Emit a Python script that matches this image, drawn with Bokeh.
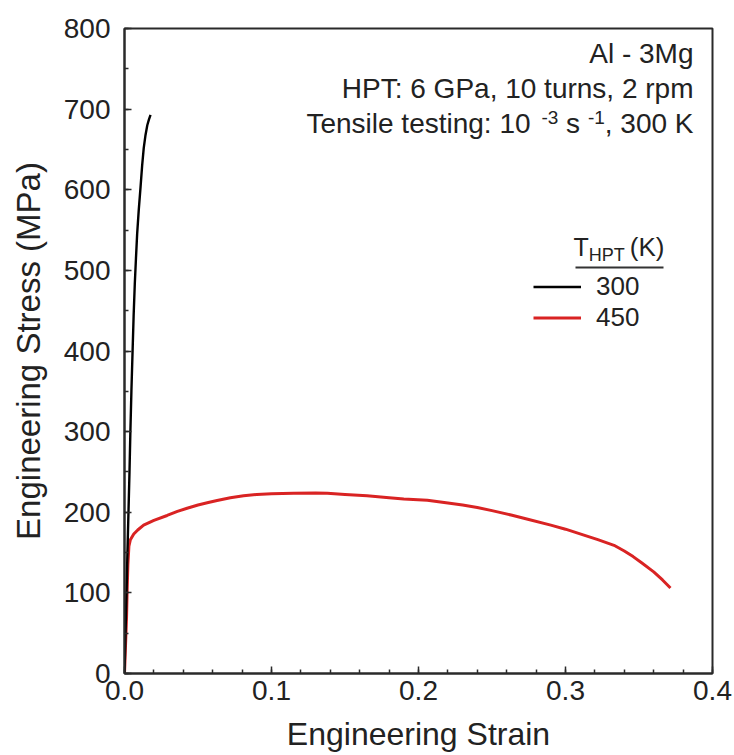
from bokeh.plotting import figure
from bokeh.models import (Range1d, SingleIntervalTicker, Legend, LegendItem, Label,
                          PrintfTickFormatter, ColumnDataSource)
from bokeh.embed import file_html
from bokeh.resources import INLINE

# ---------------- data ----------------
strain_300 = [0.0, 0.0007, 0.0014, 0.0020, 0.0027, 0.0034, 0.0040, 0.0047, 0.0055,
              0.0062, 0.0070, 0.0078, 0.0086, 0.0097, 0.0109, 0.0120, 0.0131, 0.0143,
              0.0155, 0.0166, 0.0177]
stress_300 = [0, 50, 100, 150, 200, 250, 300, 350, 400, 443, 483, 515, 545, 575, 603,
              630, 652, 668, 680, 687, 693]

strain_450 = [0.0, 0.0007, 0.0014, 0.0018, 0.0023, 0.003, 0.004, 0.0063, 0.009, 0.013,
              0.020, 0.029, 0.036, 0.0426, 0.050, 0.057, 0.063, 0.072, 0.081, 0.090,
              0.100, 0.115, 0.130, 0.138, 0.150, 0.165, 0.180, 0.190, 0.206, 0.220,
              0.230, 0.240, 0.250, 0.263, 0.275, 0.290, 0.300, 0.312, 0.322, 0.333,
              0.340, 0.346, 0.352, 0.360, 0.366, 0.3714]
stress_450 = [0, 35, 70, 103, 135, 158, 166, 173, 178, 184, 190, 196, 201, 205, 209,
              212, 214.5, 218, 220.5, 222, 223, 223.5, 224, 223.5, 222, 220.5, 218,
              216.5, 215, 211.5, 209, 206, 202, 196.5, 191, 184, 179, 172, 166, 159,
              152, 145, 137, 126, 116, 106]

series_labels = ["300", "450"]
x_label = "Engineering Strain"
y_label = "Engineering Stress (MPa)"
annot_lines = ["Al - 3Mg", "HPT: 6 GPa, 10 turns, 2 rpm"]

FONT = "Liberation Sans"
TXT = "#222222"
RED = "#d92323"

# frame geometry in canvas pixels
FL, FR, FT, FB = 124, 712, 28, 673
W, H = 734, 755

p = figure(width=W, height=H, output_backend="svg", toolbar_location=None,
           x_range=Range1d(0, 0.4), y_range=Range1d(0, 800),
           min_border_left=FL, min_border_right=W - FR,
           min_border_top=FT, min_border_bottom=H - FB)
p.background_fill_color = "white"
p.border_fill_color = "white"
p.outline_line_color = "#2a2a2a"
p.outline_line_width = 2
p.xgrid.visible = False
p.ygrid.visible = False

def px2x(px):
    return (px - FL) / (FR - FL) * 0.4

def py2y(py):
    return (FB - py) / (FB - FT) * 800

# axes
for ax in (p.xaxis[0], p.yaxis[0]):
    ax.axis_line_color = "#2a2a2a"
    ax.axis_line_width = 2
    ax.major_tick_line_color = "#2a2a2a"
    ax.minor_tick_line_color = "#2a2a2a"
    ax.major_tick_line_width = 1.5
    ax.minor_tick_line_width = 1.5
    ax.major_tick_in = 7
    ax.major_tick_out = 0
    ax.minor_tick_in = 4
    ax.minor_tick_out = 0
    ax.major_label_text_font = FONT
    ax.major_label_text_font_size = "28px"
    ax.major_label_text_color = TXT
    ax.axis_label_text_font = FONT
    ax.axis_label_text_font_style = "normal"
    ax.axis_label_text_color = TXT

p.xaxis.ticker = SingleIntervalTicker(interval=0.1, num_minor_ticks=5)
p.yaxis.ticker = SingleIntervalTicker(interval=100, num_minor_ticks=2)
p.xaxis.formatter = PrintfTickFormatter(format="%.1f")
p.xaxis.axis_label = x_label
p.yaxis.axis_label = y_label
p.xaxis.axis_label_text_font_size = "32px"
p.yaxis.axis_label_text_font_size = "33px"
p.xaxis.major_label_standoff = 7
p.xaxis.axis_label_standoff = 13
p.yaxis.major_label_standoff = 14
p.yaxis.axis_label_standoff = 14

# curves
src450 = ColumnDataSource(dict(x=strain_450, y=stress_450))
src300 = ColumnDataSource(dict(x=strain_300, y=stress_300))
r450 = p.line("x", "y", source=src450, line_color=RED, line_width=3, line_join="round")
r300 = p.line("x", "y", source=src300, line_color="black", line_width=2.4, line_join="round")

# legend
legend = Legend(items=[LegendItem(label=series_labels[0], renderers=[r300]),
                       LegendItem(label=series_labels[1], renderers=[r450])],
                location=(533 - FL, FB - 332.5),
                label_text_font=FONT, label_text_font_size="26px", label_text_color=TXT,
                label_height=29, glyph_height=29, glyph_width=48, label_standoff=15,
                spacing=0, padding=0, margin=0,
                border_line_color=None, background_fill_alpha=0)
p.add_layout(legend, "center")

# Arial / Liberation Sans advance widths (per 1000 em)
AW = {' ': 278, ',': 278, '-': 333, ':': 278, '(': 333, ')': 333,
      'A': 667, 'G': 778, 'H': 722, 'K': 667, 'M': 833, 'P': 667, 'T': 611, 'S': 667,
      'a': 556, 'e': 556, 'g': 556, 'i': 222, 'l': 222, 'm': 833, 'n': 556, 'p': 556,
      'r': 333, 's': 500, 't': 278, 'u': 556}
def tw(s, size):
    return sum(AW.get(c, 556) for c in s) * size / 1000.0

def add_text(txt, px, py, size, align="left"):
    # py is the wanted baseline; the rendered baseline sits ~0.41 em lower
    p.add_layout(Label(x=px2x(px), y=py2y(py - 0.41 * size), text=txt, text_font=FONT,
                       text_font_size=f"{size}px", text_color=TXT,
                       text_align=align, text_baseline="alphabetic"))

RIGHT = 693
MAIN, SUP = 28, 19
add_text(annot_lines[0], RIGHT, 64, MAIN, "right")
add_text(annot_lines[1], RIGHT, 99, MAIN, "right")

# third line with superscripts, built from the right edge
SP = tw(" ", MAIN)
pieces = [("Tensile testing: 10", False, 0), ("-3", True, SP), ("s", False, SP),
          ("-1", True, SP), (", 300 K", False, 0)]
x = RIGHT
placed = []
for txt, sup, gap in reversed(pieces):
    size = SUP if sup else MAIN
    x -= tw(txt, size)
    placed.append((txt, x, 125 if sup else 134, size))
    x -= gap
for txt, px, py, size in placed:
    add_text(txt, px, py, size)

# legend title  T_HPT (K)
add_text("T", 573, 257, 25)
add_text("HPT", 573 + tw("T", 25), 262, 18)
add_text("(K)", 573 + tw("T", 25) + tw("HPT", 18) + 5, 257, 26)
p.segment(x0=[px2x(575)], y0=[py2y(267)], x1=[px2x(663)], y1=[py2y(267)],
          line_color="#333333", line_width=2)

open("out.html", "w").write(file_html(p, INLINE))
